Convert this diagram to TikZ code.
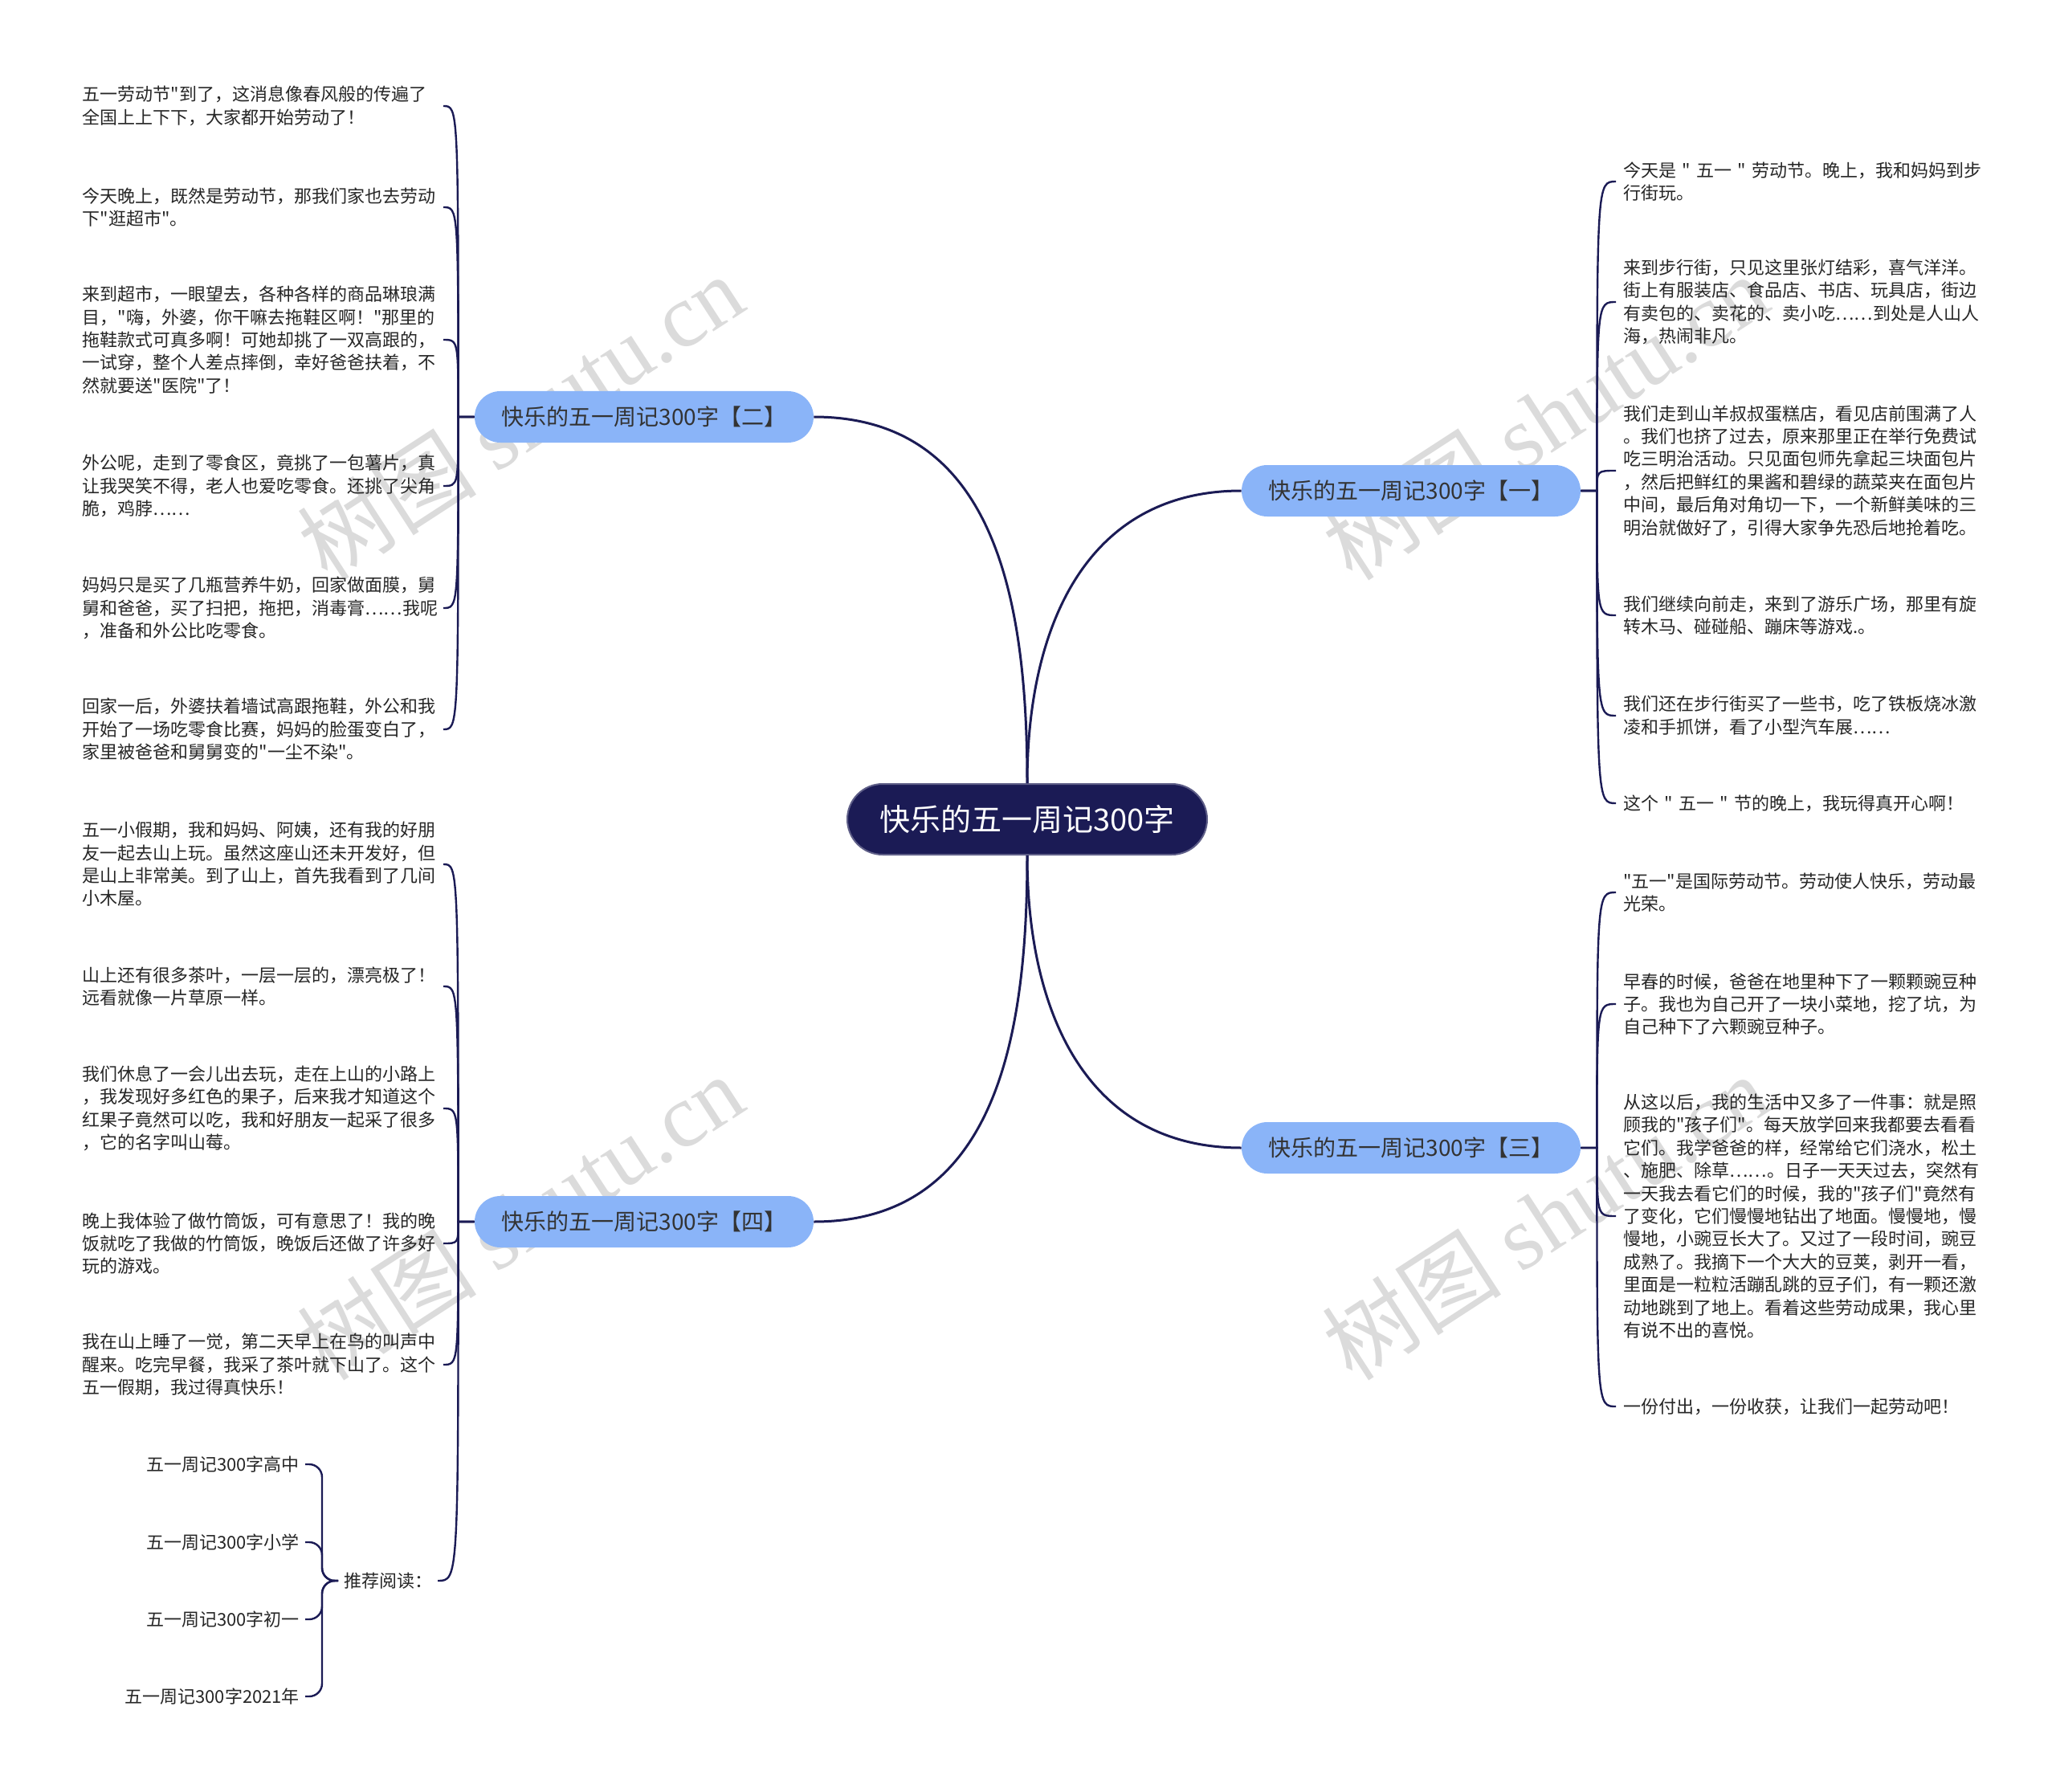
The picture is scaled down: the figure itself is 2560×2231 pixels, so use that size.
\documentclass[tikz,border=0pt]{standalone}
\usepackage{fontspec}
\newfontfamily\cjk{Noto Sans CJK SC}
\newfontfamily\wmserif{Liberation Serif}
\definecolor{navy}{HTML}{1B1B55}
\definecolor{sky}{HTML}{8AB4F8}
\definecolor{ink}{HTML}{333333}
\begin{document}
\begin{tikzpicture}[x=0.5pt, y=-0.5pt,
  every node/.style={font=\cjk\fontsize{11}{14.2}\selectfont, text=black!85},
  rootbox/.style={fill=navy, draw=navy!70!white, line width=1pt, rounded corners=22pt,
    minimum width=224pt, minimum height=44pt, text=white, font=\cjk\fontsize{19}{22}\selectfont},
  branch/.style={fill=sky, rounded corners=16pt, minimum width=211pt, minimum height=32pt,
    text=ink, font=\cjk\fontsize{14}{16}\selectfont},
  leaf/.style={align=left, text width=220pt, inner xsep=4.5pt},
  conn/.style={draw=navy, line width=1.2pt},
  trunk/.style={draw=navy, line width=1.5pt},
  wm/.style={text=gray!40, opacity=0.7, rotate=33, font=\cjk\fontsize{56}{56}\selectfont}]
  \fill[white] (0,0) rectangle (2560,2231);
  \useasboundingbox (0,0) rectangle (2560,2231);

  % watermarks
  \foreach \wx/\wy in {648/519, 1924/519, 648/1515, 1924/1515}
    \node[wm] at (\wx,\wy) {树图 {\wmserif shutu.cn}};

  % centre and branches
  \node[rootbox] (root) at (1279,1020) {快乐的五一周记300字};
  \node[branch] (b1) at (1757,611) {快乐的五一周记300字【一】};
  \node[branch] (b2) at (802,519) {快乐的五一周记300字【二】};
  \node[branch] (b3) at (1757,1429) {快乐的五一周记300字【三】};
  \node[branch] (b4) at (802,1521) {快乐的五一周记300字【四】};

  \coordinate (s1) at ([xshift=10pt]b1.east);
  \coordinate (s2) at ([xshift=-10pt]b2.west);
  \coordinate (s3) at ([xshift=10pt]b3.east);
  \coordinate (s4) at ([xshift=-10pt]b4.west);

  % branch 二
  \node[leaf, anchor=east] (l1) at (552,132) {五一劳动节"到了，这消息像春风般的传遍了\\全国上上下下，大家都开始劳动了！};
  \node[leaf, anchor=east] (l2) at (552,258) {今天晚上，既然是劳动节，那我们家也去劳动\\下"逛超市"。};
  \node[leaf, anchor=east] (l3) at (552,423) {来到超市，一眼望去，各种各样的商品琳琅满\\目，"嗨，外婆，你干嘛去拖鞋区啊！"那里的\\拖鞋款式可真多啊！可她却挑了一双高跟的，\\一试穿，整个人差点摔倒，幸好爸爸扶着，不\\然就要送"医院"了！};
  \node[leaf, anchor=east] (l4) at (552,605) {外公呢，走到了零食区，竟挑了一包薯片，真\\让我哭笑不得，老人也爱吃零食。还挑了尖角\\脆，鸡脖……};
  \node[leaf, anchor=east] (l5) at (552,757) {妈妈只是买了几瓶营养牛奶，回家做面膜，舅\\舅和爸爸，买了扫把，拖把，消毒膏……我呢\\，准备和外公比吃零食。};
  \node[leaf, anchor=east] (l6) at (552,908) {回家一后，外婆扶着墙试高跟拖鞋，外公和我\\开始了一场吃零食比赛，妈妈的脸蛋变白了，\\家里被爸爸和舅舅变的"一尘不染"。};

  % branch 四
  \node[leaf, anchor=east] (l7) at (552,1076) {五一小假期，我和妈妈、阿姨，还有我的好朋\\友一起去山上玩。虽然这座山还未开发好，但\\是山上非常美。到了山上，首先我看到了几间\\小木屋。};
  \node[leaf, anchor=east] (l8) at (552,1228) {山上还有很多茶叶，一层一层的，漂亮极了！\\远看就像一片草原一样。};
  \node[leaf, anchor=east] (l9) at (552,1380) {我们休息了一会儿出去玩，走在上山的小路上\\，我发现好多红色的果子，后来我才知道这个\\红果子竟然可以吃，我和好朋友一起采了很多\\，它的名字叫山莓。};
  \node[leaf, anchor=east] (l10) at (552,1548) {晚上我体验了做竹筒饭，可有意思了！我的晚\\饭就吃了我做的竹筒饭，晚饭后还做了许多好\\玩的游戏。};
  \node[leaf, anchor=east] (l11) at (552,1699) {我在山上睡了一觉，第二天早上在鸟的叫声中\\醒来。吃完早餐，我采了茶叶就下山了。这个\\五一假期，我过得真快乐！};
  \node[anchor=west] (l12) at (421,1968) {推荐阅读：};
  \node[anchor=east] (rd1) at (380,1823) {五一周记300字高中};
  \node[anchor=east] (rd2) at (380,1920) {五一周记300字小学};
  \node[anchor=east] (rd3) at (380,2016) {五一周记300字初一};
  \node[anchor=east] (rd4) at (380,2112) {五一周记300字2021年};
  \coordinate (s5) at ([xshift=-10pt]l12.west);

  % branch 一
  \node[leaf, anchor=west] (r1) at (2012,226) {今天是~"~五一~"~劳动节。晚上，我和妈妈到步\\行街玩。};
  \node[leaf, anchor=west] (r2) at (2012,376) {来到步行街，只见这里张灯结彩，喜气洋洋。\\街上有服装店、食品店、书店、玩具店，街边\\有卖包的、卖花的、卖小吃……到处是人山人\\海，热闹非凡。};
  \node[leaf, anchor=west] (r3) at (2012,586) {我们走到山羊叔叔蛋糕店，看见店前围满了人\\。我们也挤了过去，原来那里正在举行免费试\\吃三明治活动。只见面包师先拿起三块面包片\\，然后把鲜红的果酱和碧绿的蔬菜夹在面包片\\中间，最后角对角切一下，一个新鲜美味的三\\明治就做好了，引得大家争先恐后地抢着吃。};
  \node[leaf, anchor=west] (r4) at (2012,766) {我们继续向前走，来到了游乐广场，那里有旋\\转木马、碰碰船、蹦床等游戏.。};
  \node[leaf, anchor=west] (r5) at (2012,891) {我们还在步行街买了一些书，吃了铁板烧冰激\\凌和手抓饼，看了小型汽车展……};
  \node[leaf, anchor=west] (r6) at (2012,1000) {这个~"~五一~"~节的晚上，我玩得真开心啊！};

  % branch 三
  \node[leaf, anchor=west] (r7) at (2012,1111) {"五一"是国际劳动节。劳动使人快乐，劳动最\\光荣。};
  \node[leaf, anchor=west] (r8) at (2012,1250) {早春的时候，爸爸在地里种下了一颗颗豌豆种\\子。我也为自己开了一块小菜地，挖了坑，为\\自己种下了六颗豌豆种子。};
  \node[leaf, anchor=west] (r9) at (2012,1514) {从这以后，我的生活中又多了一件事：就是照\\顾我的"孩子们"。每天放学回来我都要去看看\\它们。我学爸爸的样，经常给它们浇水，松土\\、施肥、除草……。日子一天天过去，突然有\\一天我去看它们的时候，我的"孩子们"竟然有\\了变化，它们慢慢地钻出了地面。慢慢地，慢\\慢地，小豌豆长大了。又过了一段时间，豌豆\\成熟了。我摘下一个大大的豆荚，剥开一看，\\里面是一粒粒活蹦乱跳的豆子们，有一颗还激\\动地跳到了地上。看着这些劳动成果，我心里\\有说不出的喜悦。};
  \node[leaf, anchor=west] (r10) at (2012,1751) {一份付出，一份收获，让我们一起劳动吧！};

  % trunks
  \draw[trunk] (root.north) to[out=90, in=180, looseness=1.1] (b1.west);
  \draw[trunk] (root.north) to[out=90, in=0, looseness=1.1] (b2.east);
  \draw[trunk] (root.south) to[out=-90, in=180, looseness=1.1] (b3.west);
  \draw[trunk] (root.south) to[out=-90, in=0, looseness=1.1] (b4.east);

  % leaf connectors
  \foreach \i in {1,...,6}
    \draw[conn] (b2.west) -- (s2) .. controls (s2 |- l\i.east) .. (l\i.east);
  \foreach \i in {7,...,12}
    \draw[conn] (b4.west) -- (s4) .. controls (s4 |- l\i.east) .. (l\i.east);
  \foreach \i in {1,...,6}
    \draw[conn] (b1.east) -- (s1) .. controls (s1 |- r\i.west) .. (r\i.west);
  \foreach \i in {7,...,10}
    \draw[conn] (b3.east) -- (s3) .. controls (s3 |- r\i.west) .. (r\i.west);
  \foreach \i in {1,...,4}
    \draw[conn, rounded corners=8pt] (l12.west) -- (s5) |- (rd\i.east);
\end{tikzpicture}
\end{document}
